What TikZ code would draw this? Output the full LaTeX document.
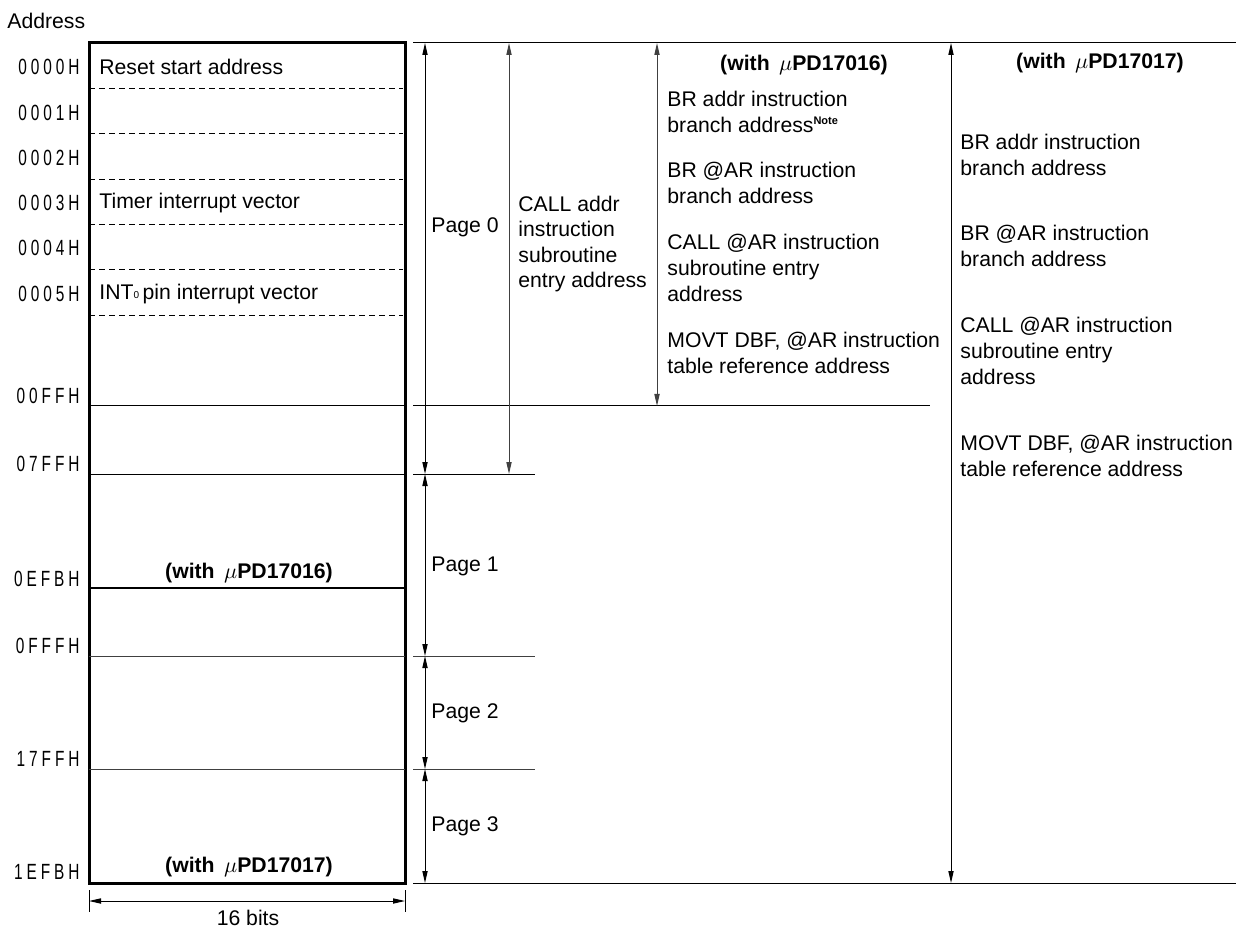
\documentclass[tikz,border=0pt]{standalone}
\usepackage{fontspec}
\setmainfont{Liberation Sans}
\newfontfamily\addrfont[FakeStretch=0.7,LetterSpace=18]{Liberation Sans}
\usetikzlibrary{positioning, arrows.meta, calc}
\tikzstyle{addr}=[
  anchor=east,
  inner sep=0pt,
  font={\addrfont\fontsize{11}{12}\selectfont}
]
\tikzstyle{txt}=[
  anchor=west,
  align=left,
  inner sep=0pt,
  font={\fontsize{10.6}{12.8}\selectfont}
]
\tikzstyle{hdr}=[
  inner sep=0pt,
  font={\fontsize{10.6}{12.8}\selectfont\bfseries}
]
\tikzstyle{rowline}=[line width=0.5pt]
\tikzstyle{gline}=[line width=0.5pt, black!75]
\tikzstyle{slot}=[line width=0.5pt, dash pattern=on 3pt off 2pt]
\tikzstyle{span}=[line width=0.5pt, {Triangle[length=6pt,width=2.6pt]}-{Triangle[length=6pt,width=2.6pt]}]

\begin{document}
\begin{tikzpicture}[x=0.5pt, y=-0.5pt]

\useasboundingbox (0,0) rectangle (1236,930);

%% columns
\coordinate (cL) at (89,0);
\coordinate (cR) at (405,0);
\coordinate (cX) at (413,0);
\coordinate (cPage) at (425,0);
\coordinate (cCall) at (509,0);
\coordinate (cShort) at (535,0);
\coordinate (cA) at (657,0);
\coordinate (cLong) at (930,0);
\coordinate (cB) at (951,0);
\coordinate (cEnd) at (1236,0);

%% rows
\coordinate (rTop) at (0,43);
\coordinate (rFF) at (0,406);
\coordinate (r7FF) at (0,474);
\coordinate (rEFB) at (0,588);
\coordinate (rFFF) at (0,656);
\coordinate (r17FF) at (0,769);
\coordinate (rBot) at (0,883);
\coordinate (rDim) at (0,901);

\node[txt] (title) at (7,21) {Address};

%% memory box
\draw[line width=1.5pt] (cL |- rTop) rectangle (cR |- rBot);

\foreach \y in {89,134,180,225,270,316}
  \draw[slot] (89,\y) -- (403,\y);

\draw[rowline] (cL |- rFF) -- (cR |- rFF);
\draw[rowline] (cX |- rFF) -- (cLong |- rFF);
\draw[rowline] (cL |- r7FF) -- (cR |- r7FF);
\draw[rowline] (cX |- r7FF) -- (cShort |- r7FF);
\draw[line width=1.2pt] (cL |- rEFB) -- (cR |- rEFB);
\draw[gline] (cL |- rFFF) -- (cR |- rFFF);
\draw[gline] (cX |- rFFF) -- (cShort |- rFFF);
\draw[gline] (cL |- r17FF) -- (cR |- r17FF);
\draw[gline] (cX |- r17FF) -- (cShort |- r17FF);
\draw[rowline] (cX |- rTop) -- (cEnd |- rTop);
\draw[rowline] (cX |- rBot) -- (cEnd |- rBot);

%% addresses
\foreach \a/\y in {0000H/67, 0001H/113, 0002H/158, 0003H/203, 0004H/248,
  0005H/294, 00FFH/396, 07FFH/464, 0EFBH/579, 0FFFH/646, 17FFH/759, 1EFBH/872}
  \node[addr] (a\a) at (80,\y) {\a};

\node[txt] (reset) at (99,67) {Reset start address};
\node[txt] (timer) at (99,203) {Timer interrupt vector};
\node[txt] (intp) at (99,294) {INT\raisebox{0.3pt}{\tiny 0}\,pin interrupt vector};
\node[hdr] (inA) at (249,573) {(with \,$\mu$PD17016)};
\node[hdr] (inB) at (249,867) {(with \,$\mu$PD17017)};

%% pages
\draw[span] (cPage |- rTop) -- (cPage |- r7FF);
\draw[span] (cPage |- r7FF) -- (cPage |- rFFF);
\draw[span] (cPage |- rFFF) -- (cPage |- r17FF);
\draw[span] (cPage |- r17FF) -- (cPage |- rBot);
\node[txt] (pg0) at (431,227) {Page 0};
\node[txt] (pg1) at (431,566) {Page 1};
\node[txt] (pg2) at (431,713) {Page 2};
\node[txt] (pg3) at (431,826) {Page 3};

\draw[span, black!75] (cCall |- rTop) -- (cCall |- r7FF);
\node[txt] (call) at (518,244) {CALL addr\\instruction\\subroutine\\entry address};

%% with uPD17016
\draw[span, black!75] (cA |- rTop) -- (cA |- rFF);
\node[hdr] (hdA) at (804,65) {(with \,$\mu$PD17016)};
\node[txt] (a1) at (667,112) {BR addr instruction\\branch address\textsuperscript{\bfseries\fontsize{5.5}{6}\selectfont Note}};
\node[txt] (a2) at (667,183) {BR @AR instruction\\branch address};
\node[txt] (a3) at (667,268) {CALL @AR instruction\\subroutine entry\\address};
\node[txt] (a4) at (667,353) {MOVT DBF, @AR instruction\\table reference address};

%% with uPD17017
\draw[span] (cB |- rTop) -- (cB |- rBot);
\node[hdr] (hdB) at (1100,63) {(with \,$\mu$PD17017)};
\node[txt] (b1) at (960,155) {BR addr instruction\\branch address};
\node[txt] (b2) at (960,246) {BR @AR instruction\\branch address};
\node[txt] (b3) at (960,351) {CALL @AR instruction\\subroutine entry\\address};
\node[txt] (b4) at (960,456) {MOVT DBF, @AR instruction\\table reference address};

%% width
\draw[rowline] (89,890) -- (89,912);
\draw[rowline] (405,890) -- (405,912);
\draw[span] (cL |- rDim) -- (cR |- rDim);
\node[txt, anchor=center] (bits) at (248,918) {16 bits};

\end{tikzpicture}
\end{document}
